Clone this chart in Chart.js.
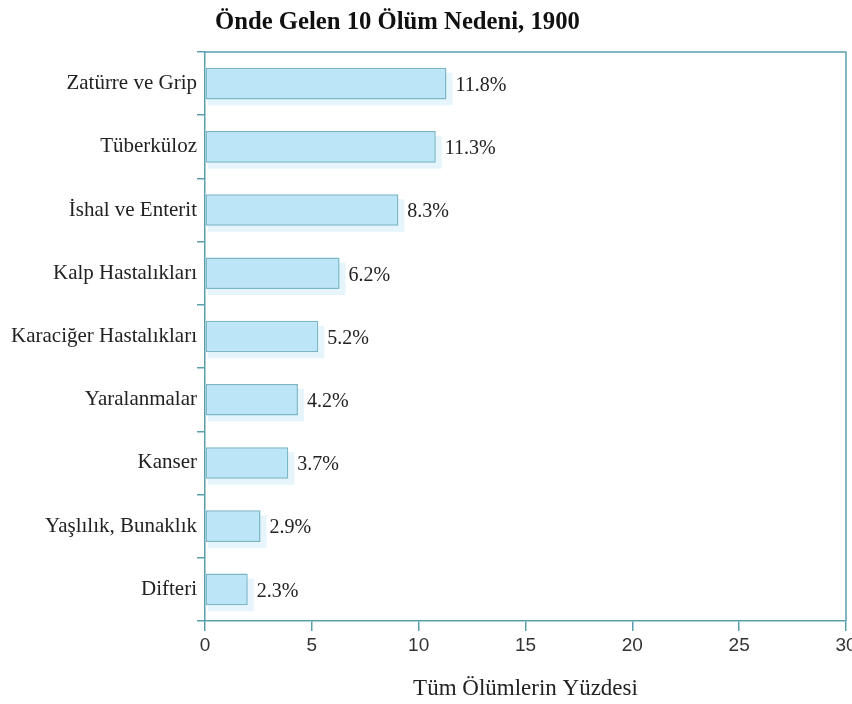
<!DOCTYPE html>
<html>
<head>
<meta charset="utf-8">
<script src="https://cdn.jsdelivr.net/npm/chart.js@4.4.1/dist/chart.umd.min.js"></script>
<style>
  html, body { margin: 0; padding: 0; background: #fff; }
  #wrap { width: 852px; height: 704px; }
</style>
</head>
<body>
<div id="wrap"><canvas id="myChart" width="852" height="704"></canvas></div>
<script>
// data
const causes = [
    'Zatürre ve Grip',
    'Tüberküloz',
    'İshal ve Enterit',
    'Kalp Hastalıkları',
    'Karaciğer Hastalıkları',
    'Yaralanmalar',
    'Kanser',
    'Yaşlılık, Bunaklık',
    'Difteri'
];
// bar lengths as drawn in the picture
const barLengths = [11.3, 10.8, 9.05, 6.3, 5.3, 4.35, 3.9, 2.6, 2.0];
// the printed labels beside the bars
const valueLabels = ['11.8%', '11.3%', '8.3%', '6.2%', '5.2%', '4.2%', '3.7%', '2.9%', '2.3%'];
const xTicks = [0, 5, 10, 15, 20, 25, 30];

const chartTitle = 'Önde Gelen 10 Ölüm Nedeni, 1900';
const xTitle = 'Tüm Ölümlerin Yüzdesi';

const axisColor = '#5b9fae';
const serif = "'Liberation Serif', 'Times New Roman', serif";
const sans = "'Liberation Sans Narrow', 'Liberation Sans', Arial, sans-serif";

// shadow under the bars, frame round the plot, title and value labels
const decorPlugin = {
    id: 'decor',
    beforeDatasetsDraw(chart) {
        const ctx = chart.ctx;
        const a = chart.chartArea;
        ctx.save();
        ctx.strokeStyle = axisColor;
        ctx.lineWidth = 1.5;
        ctx.beginPath();
        ctx.moveTo(a.left, a.top);
        ctx.lineTo(a.right, a.top);
        ctx.lineTo(a.right, a.bottom);
        ctx.stroke();
        // soft light-blue shadow offset down and right
        ctx.fillStyle = 'rgba(190, 230, 248, 0.38)';
        chart.getDatasetMeta(0).data.forEach(bar => {
            const top = bar.y - bar.height / 2;
            ctx.fillRect(bar.base + 2, top + 5, bar.x - bar.base + 4, bar.height + 1);
        });
        ctx.restore();
    },
    afterDatasetsDraw(chart) {
        const ctx = chart.ctx;
        const meta = chart.getDatasetMeta(0);
        ctx.save();
        ctx.font = '20px ' + serif;
        ctx.fillStyle = '#222';
        ctx.textBaseline = 'middle';
        ctx.textAlign = 'left';
        meta.data.forEach((bar, i) => {
            ctx.fillText(valueLabels[i], bar.x + 9, bar.y + 2);
        });
        ctx.font = 'bold 24.7px ' + serif;
        ctx.fillStyle = '#111';
        ctx.textBaseline = 'alphabetic';
        ctx.fillText(chartTitle, 215, 29);
        ctx.restore();
    }
};

const ctx = document.getElementById('myChart').getContext('2d');
const myChart = new Chart(ctx, {
    type: 'bar',
    data: {
        labels: causes,
        datasets: [{
            data: barLengths,
            backgroundColor: '#bce6f8',
            borderColor: '#79b6c6',
            borderWidth: 1.5,
            borderSkipped: false,
            barPercentage: 0.5,
            categoryPercentage: 1.0
        }]
    },
    options: {
        indexAxis: 'y',
        responsive: false,
        animation: false,
        layout: {
            padding: { top: 52, right: 6, bottom: 0, left: 0 }
        },
        plugins: {
            legend: { display: false },
            tooltip: { enabled: false },
            title: { display: false }
        },
        scales: {
            x: {
                min: 0,
                max: 30,
                afterBuildTicks: scale => {
                    scale.ticks = xTicks.map(v => ({ value: v }));
                },
                afterFit: scale => {
                    scale.height = 83;
                    scale.paddingRight = 0;
                    scale.paddingLeft = 0;
                },
                border: { display: true, color: axisColor, width: 1.5 },
                grid: {
                    drawOnChartArea: false,
                    drawTicks: true,
                    tickLength: 10,
                    color: axisColor,
                    lineWidth: 1.5
                },
                ticks: {
                    padding: 3,
                    color: '#333',
                    font: { family: sans, size: 19 }
                },
                title: {
                    display: true,
                    text: xTitle,
                    color: '#222',
                    font: { family: serif, size: 23 },
                    padding: { top: 0, bottom: 1 }
                }
            },
            y: {
                afterFit: scale => { scale.width = 205; },
                border: { display: true, color: axisColor, width: 1.5 },
                grid: {
                    drawOnChartArea: false,
                    drawTicks: true,
                    tickLength: 8,
                    color: axisColor,
                    lineWidth: 1.5
                },
                ticks: {
                    padding: 0,
                    color: '#222',
                    font: { family: serif, size: 21 }
                }
            }
        }
    },
    plugins: [decorPlugin]
});
</script>
</body>
</html>
